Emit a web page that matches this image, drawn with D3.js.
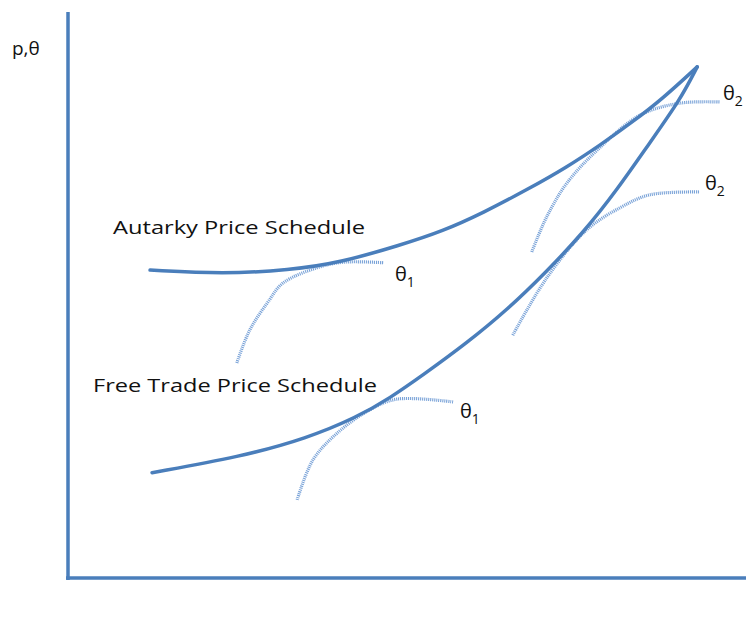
<!DOCTYPE html>
<html>
<head>
<meta charset="utf-8">
<script src="https://cdn.jsdelivr.net/npm/d3@7"></script>
<style>
  body { margin: 0; background: #fff; }
  text { font-family: "Open Sans", "Noto Sans", sans-serif; fill: #111; }
</style>
</head>
<body>
<div id="chart"></div>
<script>
// quantity / price points (axis units 0..10)
const autarkyX = [1.21, 2.29, 3.27, 4.01, 4.90, 5.53, 6.12, 6.77, 7.36, 7.85, 8.33, 8.78, 9.28];
const autarkyY = [5.44, 5.37, 5.44, 5.57, 5.88, 6.13, 6.45, 6.86, 7.26, 7.65, 8.06, 8.48, 9.03];

const freeX = [1.24, 2.54, 3.53, 4.26, 4.75, 5.24, 5.88, 6.47, 7.04, 7.60, 8.10, 8.58, 9.03, 9.28];
const freeY = [1.86, 2.14, 2.47, 2.84, 3.18, 3.59, 4.15, 4.73, 5.39, 6.10, 6.86, 7.69, 8.45, 9.03];

// indifference curves (types θ1, θ2)
const autTheta1X = [2.49, 2.68, 2.94, 3.17, 3.67, 4.06, 4.65];
const autTheta1Y = [3.80, 4.38, 4.86, 5.21, 5.48, 5.58, 5.57];
const freeTheta1X = [3.38, 3.61, 3.97, 4.45, 4.85, 5.68];
const freeTheta1Y = [1.38, 2.08, 2.56, 2.97, 3.16, 3.11];
const autTheta2X = [6.84, 7.06, 7.36, 7.85, 8.44, 9.03, 9.62];
const autTheta2Y = [5.76, 6.38, 6.98, 7.61, 8.18, 8.39, 8.41];
const freeTheta2X = [6.56, 7.06, 7.65, 8.14, 8.58, 9.32];
const freeTheta2Y = [4.29, 5.30, 6.15, 6.54, 6.77, 6.82];

const width = 746, height = 625;
const blue = "#4a7ebb";

const x = d3.scaleLinear().domain([0, 10]).range([68, 746]);
const y = d3.scaleLinear().domain([0, 10]).range([578, 12]);

const zip = (xs, ys) => xs.map((v, i) => [v, ys[i]]);

const svg = d3.select("#chart")
    .append("svg")
    .attr("width", width)
    .attr("height", height);

// axes: plain lines, no ticks
svg.append("line")
    .attr("x1", x(0)).attr("x2", x(0))
    .attr("y1", y(10)).attr("y2", y(0) + 2)
    .attr("stroke", blue).attr("stroke-width", 3.5);
svg.append("line")
    .attr("x1", x(0) - 2).attr("x2", x(10))
    .attr("y1", y(0)).attr("y2", y(0))
    .attr("stroke", blue).attr("stroke-width", 3.5);

const smooth = d3.line()
    .x(d => x(d[0]))
    .y(d => y(d[1]))
    .curve(d3.curveCatmullRom.alpha(0.5));

const basis = d3.line()
    .x(d => x(d[0]))
    .y(d => y(d[1]))
    .curve(d3.curveBasis);

// indifference curves, thin and dotted
[[autTheta1X, autTheta1Y], [freeTheta1X, freeTheta1Y],
 [autTheta2X, autTheta2Y], [freeTheta2X, freeTheta2Y]].forEach(([xs, ys]) => {
    svg.append("path")
        .attr("d", smooth(zip(xs, ys)))
        .attr("fill", "none")
        .attr("stroke", "#7aa3d8")
        .attr("stroke-width", 3.2)
        .attr("stroke-dasharray", "1.1,0.9");
});

// price schedules
[[autarkyX, autarkyY], [freeX, freeY]].forEach(([xs, ys]) => {
    svg.append("path")
        .attr("d", basis(zip(xs, ys)))
        .attr("fill", "none")
        .attr("stroke", blue)
        .attr("stroke-width", 3.5)
        .attr("stroke-linecap", "round");
});

// labels
svg.append("text").attr("x", 12).attr("y", 55)
    .style("font-size", "19px").text("p,θ");

svg.append("text").attr("x", 113).attr("y", 234)
    .attr("textLength", 252).attr("lengthAdjust", "spacingAndGlyphs")
    .style("font-size", "18px").text("Autarky Price Schedule");
svg.append("text").attr("x", 93).attr("y", 392)
    .attr("textLength", 284).attr("lengthAdjust", "spacingAndGlyphs")
    .style("font-size", "18px").text("Free Trade Price Schedule");

const theta = (px, py, sub) => {
    const t = svg.append("text").attr("x", px).attr("y", py)
        .style("font-size", "20px");
    t.append("tspan").text("θ");
    t.append("tspan").attr("dy", 6).style("font-size", "14px").text(sub);
};
theta(395, 281, "1");
theta(460, 418, "1");
theta(723, 100, "2");
theta(705, 190, "2");
</script>
</body>
</html>
